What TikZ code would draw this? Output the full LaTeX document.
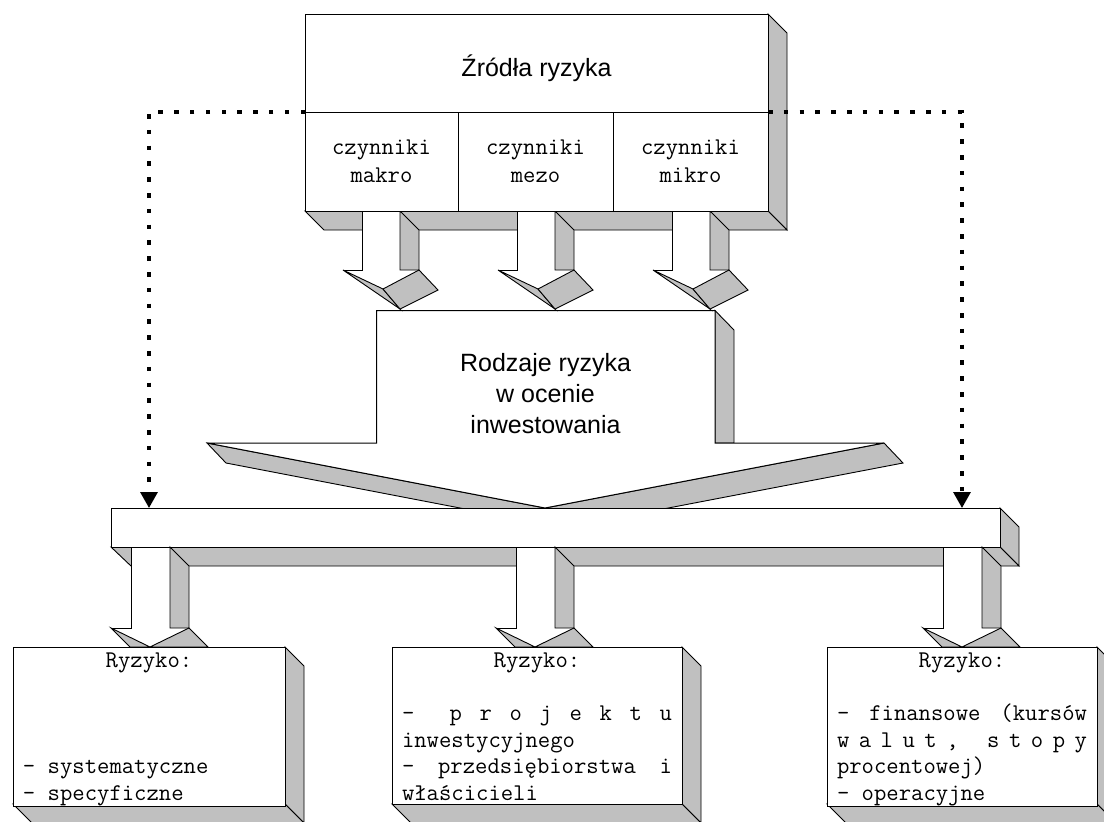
\documentclass[tikz,border=0pt]{standalone}
\usepackage{fontspec}
\setmainfont{Liberation Sans}
\newcommand\monof{\ttfamily}
\usetikzlibrary{arrows.meta}
\definecolor{shade}{HTML}{C0C0C0}

\tikzset{
  face/.style={fill=shade, draw=black, line width=0.9pt, line join=miter},
  edge/.style={draw=black, line width=0.9pt},
  boxnode/.style={draw=black, fill=white, line width=0.9pt, inner sep=0pt, outer sep=0pt, anchor=north west},
  sanstxt/.style={font=\fontsize{25}{30}\selectfont, anchor=base, inner sep=0pt},
  monotxt/.style={font=\monof\fontsize{24}{26.7}\selectfont, anchor=base, inner sep=0pt},
  dotline/.style={line width=3.2pt, dash pattern=on 4.5pt off 11.3pt, -{Triangle[width=17pt,length=16pt]}},
}

\newcommand\mkToparrow[1]{%
  \fill[white] (#1,211.5) rectangle ({#1+38},270.5);
  \draw[edge] (#1,211) -- (#1,270) -- ({#1-19},270);
  \path[face] ({#1+38},211) -- ({#1+57},230) -- ({#1+57},270) -- ({#1+38},270) -- cycle;
  \path[face] ({#1-19},270) -- ({#1+21},289) -- ({#1+38},309) -- cycle;
  \path[face] ({#1+21},289) -- ({#1+57},270) -- ({#1+76},290) -- ({#1+38},309) -- cycle;
}
\newcommand\mkBotarrow[1]{%
  \fill[white] (#1,547.5) rectangle ({#1+39},628.5);
  \draw[edge] (#1,547) -- (#1,628) -- ({#1-20},628);
  \path[face] ({#1+39},547) -- ({#1+58},566) -- ({#1+58},628) -- ({#1+39},628) -- cycle;
  \path[face] ({#1-20},628) -- ({#1-1},647) -- ({#1+19},647) -- cycle;
  \path[face] ({#1+19},647) -- ({#1+58},628) -- ({#1+77},647) -- cycle;
}
\newcommand\mkBoxdepth[2]{% #1 = left x, #2 = right x
  \path[face] (#2,647) -- ({#2+19},666) -- ({#2+19},823) -- (#2,804) -- cycle;
  \path[face] (#1,804) -- (#2,804) -- ({#2+19},823) -- ({#1+19},823) -- cycle;
}
\newcommand\riskbox[2]{\vbox{\hsize=#1\relax\monof\fontsize{24}{26.7}\selectfont\baselineskip=26.7pt #2}}
\newcommand\rl[1]{\hbox to\hsize{#1}}
\newcommand\topstrut{\rule{0pt}{20pt}}
\newcommand\botstrut{\rule[-3.5pt]{0pt}{3.5pt}}

\begin{document}
\begin{tikzpicture}[x=1pt,y=-1pt]
\useasboundingbox (0,0) rectangle (1104,822);
\fill[white] (0,0) rectangle (1104,822);

% big arrow "Rodzaje ryzyka"
\path[face] (207,443) -- (226,463) -- (564,528) -- (545,508) -- cycle;
\path[face] (884,443) -- (903,463) -- (564,528) -- (545,508) -- cycle;
\path[face] (715,310.5) -- (734,330) -- (734,443) -- (715,443) -- cycle;
\path[fill=white, edge, line width=1pt] (376.5,310.5) -- (715,310.5) -- (715,443) -- (884,443) -- (545,508) -- (207,443) -- (376.5,443) -- cycle;
\node[sanstxt] (rt1) at (545.5,371) {Rodzaje ryzyka};
\node[sanstxt] (rt2) at (545.5,402) {w ocenie};
\node[sanstxt] (rt3) at (545.5,433) {inwestowania};

% top box depth and arrows
\path[face] (768,14) -- (787,33) -- (787,230) -- (768,211) -- cycle;
\path[face] (305,211) -- (768,211) -- (787,230) -- (324,230) -- cycle;
\mkToparrow{362}
\mkToparrow{517}
\mkToparrow{672}

% top box
\node[boxnode, minimum width=463pt, minimum height=98pt] (src) at (305,14) {};
\node[boxnode, minimum width=153pt, minimum height=99pt] (macro) at (305,112) {};
\node[boxnode, minimum width=155pt, minimum height=99pt] (mezo) at (458,112) {};
\node[boxnode, minimum width=155pt, minimum height=99pt] (mikro) at (613,112) {};
\node[sanstxt] (srctxt) at (536.5,76) {Źródła ryzyka};
\node[monotxt] (m1a) at (381.5,154) {czynniki};
\node[monotxt] (m1b) at (381.5,182) {makro};
\node[monotxt] (m2a) at (535.5,154) {czynniki};
\node[monotxt] (m2b) at (535.5,182) {mezo};
\node[monotxt] (m3a) at (690.5,154) {czynniki};
\node[monotxt] (m3b) at (690.5,182) {mikro};

% bar
\path[face] (1000,508) -- (1019,527) -- (1019,566) -- (1000,547) -- cycle;
\path[face] (111,547) -- (1000,547) -- (1019,566) -- (131,566) -- cycle;
\node[boxnode, minimum width=889pt, minimum height=39pt] (bar) at (111,508) {};

% dotted connectors
\coordinate (dl) at (149,508);
\coordinate (dr) at (962,508);
\draw[dotline] (src.south west) -| (dl);
\draw[dotline] (src.south east) -| (dr);

% bottom arrows
\mkBotarrow{131}
\mkBotarrow{516}
\mkBotarrow{943}

% bottom boxes
\mkBoxdepth{13}{285}
\mkBoxdepth{392}{682}
\mkBoxdepth{827}{1097}

\node[boxnode, inner xsep=10pt, minimum width=272pt, minimum height=157pt] (r1) at (13,647) {\riskbox{252pt}{%
\rl{\topstrut\hfil Ryzyko:\hfil}%
\rl{}\rl{}\rl{}%
\rl{- systematyczne\hfil}%
\rl{\botstrut- specyficzne\hfil}}};

\node[boxnode, inner xsep=10pt, minimum width=290pt, minimum height=157pt] (r2) at (392,647) {\riskbox{270pt}{%
\rl{\topstrut\hfil Ryzyko:\hfil}%
\rl{}%
\rl{-\hfill\hfill p\hfill r\hfill o\hfill j\hfill e\hfill k\hfill t\hfill u}%
\rl{inwestycyjnego\hfil}%
\rl{-\hfill przedsiębiorstwa\hfill i}%
\rl{\botstrut właścicieli\hfil}}};

\node[boxnode, inner xsep=10pt, minimum width=270pt, minimum height=157pt] (r3) at (827,647) {\riskbox{250pt}{%
\rl{\topstrut\hfil Ryzyko:\hfil}%
\rl{}%
\rl{-\hfill finansowe\hfill (kursów}%
\rl{w\hfill a\hfill l\hfill u\hfill t\hfill ,\hfill\hfill\hfill s\hfill t\hfill o\hfill p\hfill y}%
\rl{procentowej)\hfil}%
\rl{\botstrut- operacyjne\hfil}}};
\end{tikzpicture}
\end{document}
